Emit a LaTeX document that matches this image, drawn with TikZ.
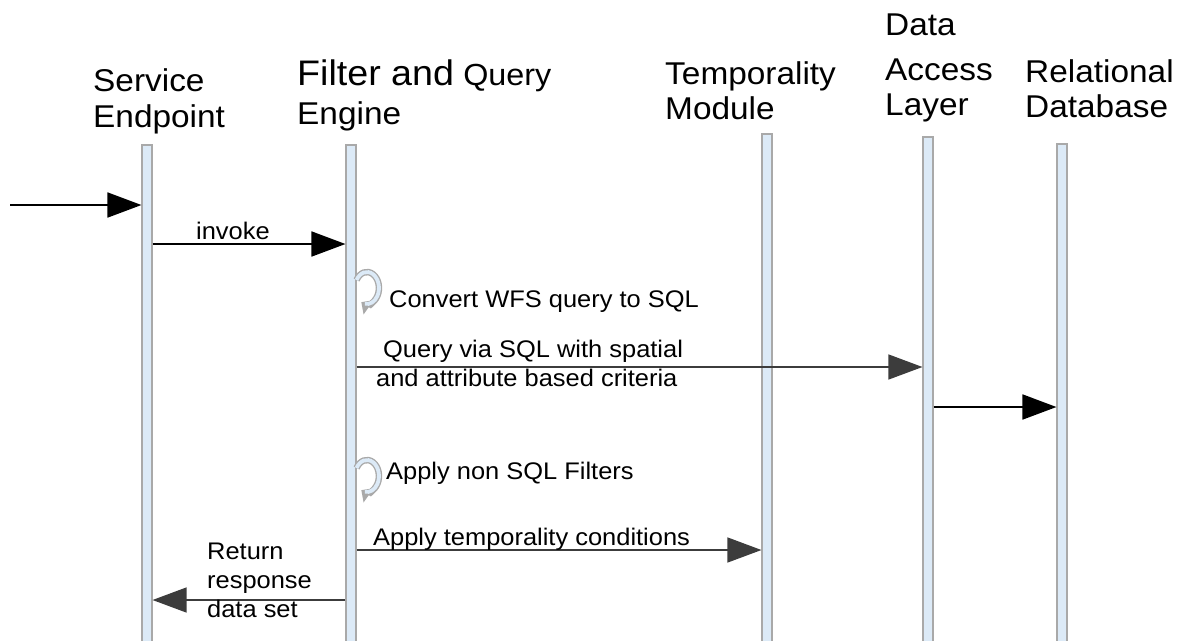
\documentclass[tikz,border=0pt]{standalone}
\usepackage{fontspec}
\setmainfont{Liberation Sans}[FakeStretch=1.06]
\usetikzlibrary{arrows.meta}
\definecolor{lifeblue}{HTML}{DCEAF7}
\definecolor{lifegray}{HTML}{A9A9A9}
\definecolor{msggray}{HTML}{3C3C3C}
\tikzset{lifeline/.style={draw=lifegray,fill=lifeblue,line width=1.6pt,minimum width=9.5pt,inner sep=0pt,anchor=north},
	headtext/.style={font=\fontsize{31.5}{36}\selectfont,align=left,anchor=north west,inner sep=0pt},
	msgtext/.style={font=\fontsize{24}{29}\selectfont,align=left,inner sep=0pt},
	call/.style={draw=black,line width=1.8pt,-{Triangle[length=34pt,width=25pt]}},
	msg/.style={draw=msggray,line width=1.3pt,-{Triangle[length=34pt,width=25pt]}},
	loopedge/.style={draw=lifegray,line width=6.5pt,-{Triangle[length=9pt,width=17pt]}},
	loopfill/.style={draw=lifeblue,line width=3.8pt}}

\begin{document}
\begin{tikzpicture}[x=1pt,y=-1pt]
	\useasboundingbox (0,0) rectangle (1183,640);
	\node[headtext] (seh) at (93,68) {Service\\Endpoint};
	\node[headtext,font=\fontsize{31.5}{39}\selectfont] (fqh) at (297,60) {{\fontsize{35.5}{39}\selectfont Filter and} \fontsize{30.5}{39}\selectfont Query\\\fontsize{31.5}{39}\selectfont Engine};
	\node[headtext,font=\fontsize{31.5}{35}\selectfont] (tmh) at (665,61) {Temporality\\Module};
	\node[headtext,font=\fontsize{31.5}{35}\selectfont] (dah) at (885,14) {Data\\[10pt]Access\\Layer};
	\node[headtext,font=\fontsize{31.5}{35}\selectfont] (rdh) at (1025,59) {Relational\\Database};
	\node[lifeline,minimum height=510pt] (se) at (147,144) {};
	\node[lifeline,minimum height=510pt] (fq) at (351,144) {};
	\node[lifeline,minimum height=520pt] (tm) at (767,133) {};
	\node[lifeline,minimum height=520pt] (da) at (928,136) {};
	\node[lifeline,minimum height=510pt] (rd) at (1062,143) {};
	\coordinate (client) at (10,205);
	\draw[call] (client) -- (se.west |- client);
	\draw[call] (se.east |- 0,244) -- (fq.west |- 0,244);
	\node[msgtext,anchor=base west] (invoke) at (196,239) {invoke};
	\coordinate (convA) at (fq.east |- 0,280);
	\draw[loopedge] (convA) arc[start angle=-150,end angle=118,x radius=12,y radius=16];
	\draw[loopfill] (convA) arc[start angle=-150,end angle=100,x radius=12,y radius=16];
	\node[msgtext,anchor=base west] (conv) at (389,307) {Convert WFS query to SQL};
	\draw[msg] (fq.east |- 0,367) -- (da.west |- 0,367);
	\node[msgtext,anchor=north west] (query) at (376,340) {\hspace*{7pt}Query via SQL with spatial\\and attribute based criteria};
	\draw[call] (da.east |- 0,407) -- (rd.west |- 0,407);
	\coordinate (filtA) at (fq.east |- 0,468);
	\draw[loopedge] (filtA) arc[start angle=-150,end angle=118,x radius=12,y radius=16];
	\draw[loopfill] (filtA) arc[start angle=-150,end angle=100,x radius=12,y radius=16];
	\node[msgtext,anchor=base west] (filt) at (386,479) {Apply non SQL Filters};
	\draw[msg] (fq.east |- 0,550) -- (tm.west |- 0,550);
	\node[msgtext,anchor=base west] (temp) at (373,545) {Apply temporality conditions};
	\draw[msg] (fq.west |- 0,600) -- (se.east |- 0,600);
	\node[msgtext,anchor=north west] (ret) at (207,543) {Return\\response\\data set};
\end{tikzpicture}
\end{document}
